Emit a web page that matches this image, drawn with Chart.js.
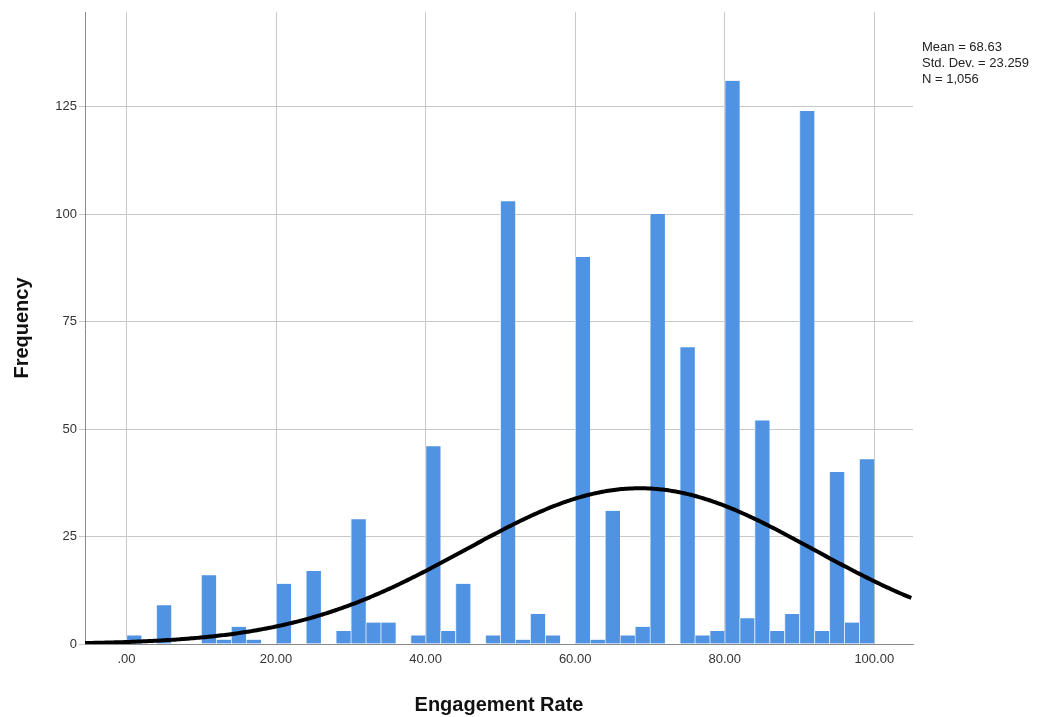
<!DOCTYPE html>
<html>
<head>
<meta charset="utf-8">
<script src="https://cdn.jsdelivr.net/npm/chart.js@4.4.1/dist/chart.umd.min.js"></script>
<style>
  html, body { margin: 0; padding: 0; background: #ffffff; }
  #wrap { width: 1056px; height: 717px; position: relative; }
</style>
</head>
<body>
<div id="wrap"><canvas id="c" width="1056" height="717"></canvas></div>
<script>
// Histogram bins (lower edge of each 2-point bin) and their frequencies
const binStarts = [0, 2, 4, 6, 8, 10, 12, 14, 16, 18,
                   20, 22, 24, 26, 28, 30, 32, 34, 36, 38,
                   40, 42, 44, 46, 48, 50, 52, 54, 56, 58,
                   60, 62, 64, 66, 68, 70, 72, 74, 76, 78,
                   80, 82, 84, 86, 88, 90, 92, 94, 96, 98];
const binWidth = 2;
const counts = [2, 0, 9, 0, 0, 16, 1, 4, 1, 0,
                14, 0, 17, 0, 3, 29, 5, 5, 0, 2,
                46, 3, 14, 0, 2, 103, 1, 7, 2, 0,
                90, 1, 31, 2, 4, 100, 0, 69, 2, 3,
                131, 6, 52, 3, 7, 124, 3, 40, 5, 43];

// Summary statistics shown beside the plot
const meanValue = 68.63;
const stdDev = 23.259;
const nCases = 1056;
const statLines = ['Mean = 68.63', 'Std. Dev. = 23.259', 'N = 1,056'];

// Axis ticks
const xTickValues = [0, 20, 40, 60, 80, 100];
const xTickLabels = ['.00', '20.00', '40.00', '60.00', '80.00', '100.00'];
const yTickValues = [0, 25, 50, 75, 100, 125];

const xMin = -5.55, xMax = 105.18;
const yMax = 147;

// Bars placed at bin centres on a linear axis
const barPoints = binStarts.map((s, i) => ({ x: s + binWidth / 2, y: counts[i] }));

// Fitted normal curve, scaled to frequency per bin
const curvePoints = [];
for (let x = xMin; x <= xMax + 1e-9; x += 0.25) {
  const z = (x - meanValue) / stdDev;
  const y = nCases * binWidth * Math.exp(-0.5 * z * z) / (stdDev * Math.sqrt(2 * Math.PI));
  curvePoints.push({ x: x, y: y });
}

const statsBox = {
  id: 'statsBox',
  afterDraw(chart) {
    const ctx = chart.ctx;
    ctx.save();
    ctx.fillStyle = '#222222';
    ctx.font = '13px "Liberation Sans", Arial, sans-serif';
    ctx.textBaseline = 'middle';
    ctx.textAlign = 'left';
    statLines.forEach((t, i) => ctx.fillText(t, 922, 47 + i * 16));
    ctx.restore();
  }
};

new Chart(document.getElementById('c'), {
  type: 'bar',
  data: {
    datasets: [
      {
        type: 'line',
        data: curvePoints,
        borderColor: '#000000',
        borderWidth: 4,
        pointRadius: 0,
        tension: 0,
        fill: false,
        order: 0
      },
      {
        type: 'bar',
        data: barPoints,
        backgroundColor: '#4f93e2',
        borderColor: '#dbe8f8',
        borderWidth: { left: 1, right: 0, top: 0, bottom: 0 },
        borderSkipped: false,
        barPercentage: 1,
        categoryPercentage: 1,
        order: 1
      }
    ]
  },
  options: {
    responsive: false,
    animation: false,
    devicePixelRatio: 1,
    layout: { padding: { top: 12, right: 143, left: 0, bottom: 0 } },
    plugins: { legend: { display: false }, tooltip: { enabled: false } },
    scales: {
      x: {
        type: 'linear',
        min: xMin,
        max: xMax,
        offset: false,
        afterBuildTicks(scale) { scale.ticks = xTickValues.map(v => ({ value: v })); },
        afterFit(scale) { scale.height = 73; },
        ticks: {
          padding: 8,
          color: '#333333',
          font: { family: '"Liberation Sans", Arial, sans-serif', size: 13 },
          callback: (v) => xTickLabels[xTickValues.indexOf(v)]
        },
        grid: { color: '#c8c8c8', lineWidth: 1, drawTicks: false, offset: false },
        border: { color: '#8a8a8a', width: 1 },
        title: {
          display: true,
          text: 'Engagement Rate',
          color: '#111111',
          font: { family: '"Liberation Sans", Arial, sans-serif', size: 20, weight: 'bold' },
          padding: { top: 0, bottom: 0 }
        }
      },
      y: {
        type: 'linear',
        min: 0,
        max: yMax,
        afterBuildTicks(scale) { scale.ticks = yTickValues.map(v => ({ value: v })); },
        afterFit(scale) { scale.width = 85; },
        ticks: {
          padding: 2,
          color: '#333333',
          font: { family: '"Liberation Sans", Arial, sans-serif', size: 13 }
        },
        grid: { color: '#c8c8c8', lineWidth: 1, drawTicks: true, tickLength: 6 },
        border: { color: '#8a8a8a', width: 1 },
        title: {
          display: true,
          text: 'Frequency',
          color: '#111111',
          font: { family: '"Liberation Sans", Arial, sans-serif', size: 20, weight: 'bold' },
          padding: { top: 10, bottom: 0 }
        }
      }
    }
  },
  plugins: [statsBox]
});
</script>
</body>
</html>
